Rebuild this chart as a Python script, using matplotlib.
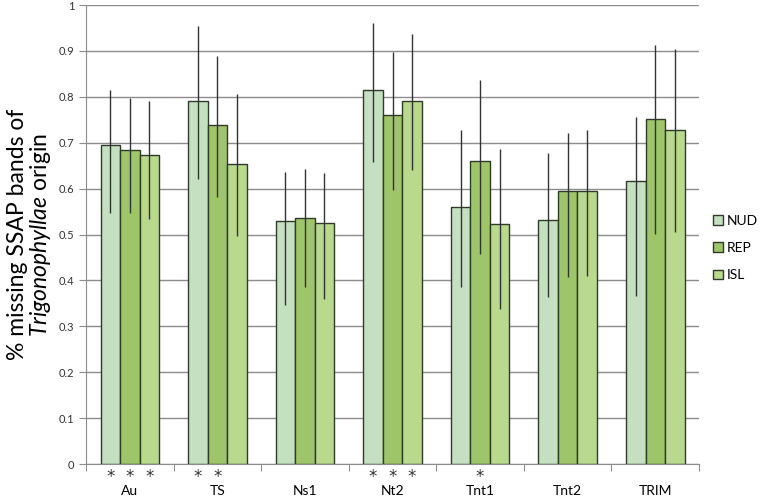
import numpy as np
import matplotlib
matplotlib.use("Agg")
import matplotlib.pyplot as plt
from matplotlib.patches import Patch
from matplotlib.transforms import blended_transform_factory

plt.rcParams['font.family'] = ['Lato', 'DejaVu Sans']
plt.rcParams['mathtext.fontset'] = 'custom'
plt.rcParams['mathtext.it'] = 'Lato:italic'
plt.rcParams['mathtext.rm'] = 'Lato'

categories = ['Au', 'TS', 'Ns1', 'Nt2', 'Tnt1', 'Tnt2', 'TRIM']
series = ['NUD', 'REP', 'ISL']

nud = [0.695, 0.790, 0.529, 0.814, 0.560, 0.531, 0.617]
rep = [0.685, 0.738, 0.536, 0.761, 0.660, 0.594, 0.751]
isl = [0.673, 0.654, 0.526, 0.790, 0.522, 0.595, 0.728]

# upper / lower ends of the error lines
nud_hi = [0.814, 0.955, 0.637, 0.961, 0.728, 0.677, 0.757]
nud_lo = [0.547, 0.620, 0.347, 0.657, 0.385, 0.363, 0.367]
rep_hi = [0.798, 0.888, 0.643, 0.898, 0.836, 0.722, 0.913]
rep_lo = [0.547, 0.581, 0.385, 0.597, 0.458, 0.407, 0.501]
isl_hi = [0.790, 0.806, 0.634, 0.937, 0.686, 0.728, 0.904]
isl_lo = [0.533, 0.496, 0.360, 0.640, 0.338, 0.410, 0.505]

# significance stars (category index, series index)
stars = [(0, 0), (0, 1), (0, 2), (1, 0), (1, 1), (3, 0), (3, 1), (3, 2), (4, 1)]

colors = ['#c4e0c0', '#9fc56a', '#b9d98d']
values = [nud, rep, isl]
his = [nud_hi, rep_hi, isl_hi]
los = [nud_lo, rep_lo, isl_lo]

fig = plt.figure(figsize=(7.62, 4.96), dpi=100)
ax = fig.add_axes([0.1129, 0.0645, 0.8045, 0.9254])

x = np.arange(len(categories))
w = 0.223
for k in range(3):
    xs = x + (k - 1) * w
    ax.bar(xs, values[k], width=w, color=colors[k], edgecolor='#2f3a2a',
           linewidth=1.0, zorder=2)
    ax.vlines(xs, los[k], his[k], color='#333333', linewidth=1.0, zorder=3)

ax.set_xlim(-0.5, len(categories) - 0.5)
ax.set_ylim(0, 1)
ax.set_yticks(np.arange(0, 1.01, 0.1))
ax.set_yticklabels(['0'] + ['%.1f' % v for v in np.arange(0.1, 0.95, 0.1)] + ['1'])
ax.yaxis.grid(True, color='#8c8c8c', linewidth=1.0, zorder=0)
ax.set_axisbelow(True)

ax.set_xticks(np.arange(-0.5, len(categories), 1.0))
ax.set_xticklabels([])
ax.set_xticks(x, minor=True)
ax.set_xticklabels(categories, minor=True, fontsize=10)
ax.tick_params(axis='x', which='minor', length=0, pad=15)
ax.tick_params(axis='x', which='major', length=5, color='#8c8c8c')
ax.tick_params(axis='y', length=5, color='#8c8c8c', labelsize=8, labelcolor='#333333')

for s in ['top', 'right']:
    ax.spines[s].set_visible(False)
for s in ['left', 'bottom']:
    ax.spines[s].set_color('#8c8c8c')

trans = blended_transform_factory(ax.transData, ax.transAxes)
for ci, si in stars:
    ax.text(x[ci] + (si - 1) * w, -0.028, '*', transform=trans, ha='center',
            va='center', fontsize=12, color='#333333', family='DejaVu Sans')

ax.set_ylabel('% missing SSAP bands of\n$\\it{Trigonophyllae}$ origin',
              fontsize=16.5, linespacing=1.0, labelpad=4)

handles = [Patch(facecolor=colors[k], edgecolor='#2f3a2a', label=series[k]) for k in range(3)]
fig.legend(handles=handles, loc='center left', bbox_to_anchor=(0.925, 0.5),
           frameon=False, fontsize=10, handlelength=0.7, handleheight=0.7,
           handletextpad=0.3, labelspacing=1.1, borderaxespad=0.2)

fig.savefig('out.png', dpi=100)
